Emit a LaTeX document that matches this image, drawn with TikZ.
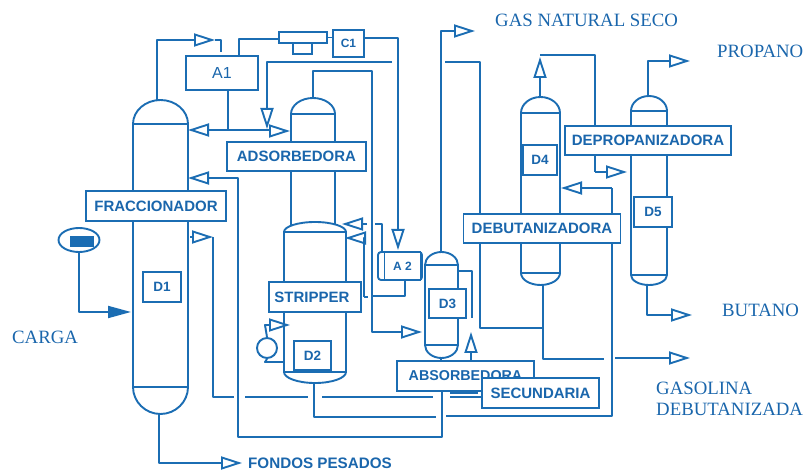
\documentclass[tikz,border=0pt]{standalone}
\usepackage{fontspec}
\setmainfont{Liberation Serif}
\setsansfont{Liberation Sans}
\usetikzlibrary{arrows.meta,shapes.geometric}
\definecolor{pfd}{HTML}{1B6DB3}
\definecolor{pfdtext}{HTML}{1A66AC}
\newcommand{\vessel}[6]{% xl xr apexTop tanTop tanBot apexBot
  \pgfmathsetmacro{\vm}{(#1+#2)/2}\pgfmathsetmacro{\vk}{0.276*(#2-#1)}
  \pgfmathsetmacro{\vt}{0.45*(#4-#3)}\pgfmathsetmacro{\vb}{0.45*(#6-#5)}
  \draw[pipe,fill=white] (#1,#4) .. controls (#1,#3+\vt) and (\vm-\vk,#3) .. (\vm,#3)
    .. controls (\vm+\vk,#3) and (#2,#3+\vt) .. (#2,#4) -- (#2,#5)
    .. controls (#2,#6-\vb) and (\vm+\vk,#6) .. (\vm,#6)
    .. controls (\vm-\vk,#6) and (#1,#6-\vb) .. (#1,#5) -- cycle;
  \draw[pipe] (#1,#4) -- (#2,#4) (#1,#5) -- (#2,#5);}
\tikzset{
  pipe/.style={draw=pfd,line width=1.9pt,line join=round},
  flow/.style={pipe,-{Triangle[open,length=21pt,width=13pt,line width=1.9pt]}},
  solidflow/.style={pipe,-{Triangle[length=23pt,width=12pt]}},
  tag/.style={draw=pfd,line width=1.9pt,fill=white,inner sep=0pt,text=pfdtext,
    font=\sffamily\bfseries\fontsize{15}{17}\selectfont},
  dtag/.style={tag,font=\sffamily\bfseries\fontsize{13.5}{15}\selectfont},
  serif/.style={text=pfdtext,inner sep=0pt,font=\rmfamily\fontsize{18.8}{21}\selectfont},
}
\begin{document}
\begin{tikzpicture}[x=1pt,y=-1pt]
\useasboundingbox (0,0) rectangle (809,470);
% ports
\coordinate (d1top) at (157,100); \coordinate (d1bot) at (159,414);
\coordinate (d2top) at (313,98); \coordinate (d2bot) at (314,383);
\coordinate (d3top) at (441,252); \coordinate (d3bot) at (441,358);
\coordinate (d4top) at (540,97); \coordinate (d4bot) at (543,285);
\coordinate (d5top) at (648,96); \coordinate (d5bot) at (647,285);
% vessels
\vessel{133}{188}{100}{124}{387}{414}
\vessel{291}{335}{98}{114}{232}{240}
\vessel{284}{346}{222}{232}{372}{383}
\vessel{425}{458}{252}{265}{345}{358}
\vessel{521}{560}{97}{113}{273}{285}
\vessel{631}{667}{96}{111}{275}{285}
% tags
\node[tag,minimum width=72pt,minimum height=34pt,font=\sffamily\fontsize{16}{18}\selectfont] (a1) at (222,73) {A1};
\node[tag,minimum width=31pt,minimum height=27pt,font=\sffamily\bfseries\fontsize{12}{14}\selectfont] (c1) at (348.5,43.5) {C1};
\node[tag,minimum width=48pt,minimum height=11pt,inner sep=0pt] (exch) at (303,37.5) {};
\node[tag,minimum width=19pt,minimum height=11pt] (exchb) at (302.5,48.5) {};
\node[tag,minimum width=44pt,minimum height=28pt,rounded corners=3pt] (a2) at (400,266) {};
\node[tag,minimum width=36pt,minimum height=28pt,font=\sffamily\bfseries\fontsize{12}{14}\selectfont] (a2in) at (402.5,266) {A 2};
% pipes
\draw[flow] (d1top) -- (157,40) -- (215,40);
\draw[pipe] (215,40) -- (221,40) -- (221,52);
\draw[pipe] (a1.north -| 239,0) -- (239,39) -- (exch.west |- 0,39);
\draw[pipe] (exch.east) -- (c1.west |- exch.east);
\draw[flow] (c1.east |- 0,38) -- (398,38) -- (398,250);
\draw[flow] (392,62) -- (267,62) -- (267,129);
\draw[pipe] (445,62) -- (480,62) -- (480,328) -- (543,328);
\draw[pipe] (d4bot) -- (543,359) -- (604,359);
\draw[flow] (615,358) -- (690,358);
\draw[flow] (228,130) -- (188,130);
\draw[pipe] (a1.south -| 228,0) -- (228,130) -- (270,130);
\draw[flow] (270,131) -- (290,131);
\draw[flow] (d2top) -- (313,71) -- (372,71) -- (372,332) -- (422,332);
\draw[flow] (442,391) -- (442,437) -- (238,437) -- (238,178) -- (188,178);
\draw[flow] (d3top) -- (441,31) -- (475,31);
\draw[pipe] (d3bot) -- (441,361);
\draw[pipe] (213,237) -- (213,397) -- (234,397);
\draw[flow] (190,237) -- (213,237);
\draw[pipe] (245,397) -- (308,397) (322,397) -- (433,397) (450,397) -- (482,397) (450,393) -- (478,393);
\draw[pipe] (d2bot) -- (314,417) -- (436,417);
\draw[pipe] (446,416) -- (612,416) -- (612,188);
\draw[flow] (612,188) -- (561,188);
\draw[flow] (d4top) -- (540,57);
\draw[pipe] (540,55) -- (595,55) -- (595,172);
\draw[flow] (595,172) -- (627,172);
\draw[flow] (d5top) -- (648,61) -- (690,61);
\draw[flow] (d5bot) -- (647,315) -- (692,315);
\draw[flow] (d1bot) -- (159,463) -- (242,463);
\draw[pipe] (458,271) -- (472,271) -- (472,318);
\draw[flow] (471,361) -- (471,332);
% D2 side streams
\draw[flow] (367,224) -- (342,224);
\draw[pipe] (375,224) -- (382,224) -- (382,252);
\draw[flow] (364,297) -- (364,238) -- (345,238);
\draw[pipe] (364,297) -- (368,297);
\draw[pipe] (373,296) -- (405,296) -- (405,280);
% reboiler
\node[draw=pfd,line width=1.9pt,circle,minimum size=20pt,inner sep=0pt] (reb) at (267,348) {};
\draw[pipe] (reb.south) -- (265,362) -- (283,362);
\draw[flow] (reb.north) -- (265,325) -- (290,325);
% feed pump
\node[draw=pfd,line width=1.9pt,ellipse,minimum width=41pt,minimum height=24pt,inner sep=0pt] (pump) at (79,240) {};
\node[fill=pfd,minimum width=24pt,minimum height=11pt,inner sep=0pt] (pumpcore) at (82,241.5) {};
\draw[solidflow] (pump.south) -- (79,312) -- (131,312);
% white-backed labels
\node[tag,minimum width=139pt,minimum height=29pt] (adsorb) at (296.5,156.5) {ADSORBEDORA};
\node[tag,minimum width=140pt,minimum height=30pt] (fracc) at (156,206) {FRACCIONADOR};
\node[tag,minimum width=92pt,minimum height=30pt] (strip) at (315,297) {\hspace*{-6pt}STRIPPER};
\node[dtag,minimum width=38pt,minimum height=30pt] (d1) at (162,287) {D1};
\node[dtag,minimum width=37pt,minimum height=29pt] (d2) at (312.5,355.5) {D2};
\node[dtag,minimum width=37pt,minimum height=29pt] (d3) at (447.5,303.5) {D3};
\node[dtag,minimum width=34pt,minimum height=30pt] (d4) at (540,160) {D4};
\node[dtag,minimum width=38pt,minimum height=30pt] (d5) at (653,212) {D5};
\node[tag,minimum width=166pt,minimum height=29pt] (deprop) at (648,140.5) {DEPROPANIZADORA};
\node[tag,minimum width=157pt,minimum height=29pt] (debut) at (542,228.5) {DEBUTANIZADORA};
\node[tag,minimum width=137pt,minimum height=30pt,font=\sffamily\bfseries\fontsize{14.3}{16}\selectfont] (absb) at (465.5,376) {\raisebox{-1pt}{ABSORBEDORA}};
\node[tag,minimum width=117pt,minimum height=30pt] (secund) at (540.5,393) {SECUNDARIA};
% outside labels
\node[serif,anchor=west] (gas) at (495,20) {GAS NATURAL SECO};
\node[serif,anchor=west] (prop) at (717,51) {PROPANO};
\node[serif,anchor=west] (but) at (722,310) {BUTANO};
\node[serif,anchor=west] (gaso) at (656,388) {GASOLINA};
\node[serif,anchor=west] (debg) at (656,409) {DEBUTANIZADA};
\node[serif,anchor=west] (carga) at (12,337) {CARGA};
\node[anchor=west,inner sep=0pt,text=pfdtext,font=\sffamily\bfseries\fontsize{15.2}{17}\selectfont] (fondos) at (248,463) {FONDOS PESADOS};
\end{tikzpicture}
\end{document}
